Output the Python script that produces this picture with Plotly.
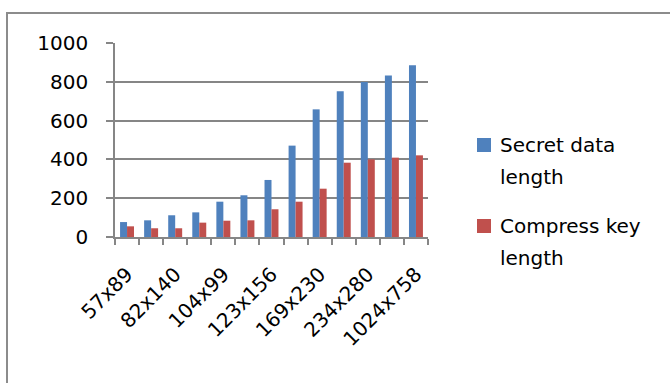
import plotly.graph_objects as go

# Image sizes (every other one is labelled on the axis)
positions = list(range(13))
size_labels = ["57x89", "82x140", "104x99", "123x156", "169x230", "234x280", "1024x758"]
label_positions = [0, 2, 4, 6, 8, 10, 12]

secret_data_length = [77, 86, 112, 127, 182, 215, 294, 471, 658, 751, 799, 832, 885]
compress_key_length = [55, 45, 45, 74, 84, 86, 143, 182, 249, 383, 400, 409, 421]

series_names = ["Secret data length", "Compress key length"]
series_colors = ["#4F81BD", "#C0504D"]

FONT = "'DejaVu Sans', sans-serif"
GRID = "#868686"

fig = go.Figure()
for name, vals, color in zip(series_names, [secret_data_length, compress_key_length], series_colors):
    fig.add_trace(go.Bar(x=positions, y=vals, name=name,
                         marker=dict(color=color, line=dict(width=0))))

W, H = 670, 383
L, R, T, B = 115, 242, 43, 146
pw, ph = W - L - R, H - T - B

def px_x(p):
    return (p - L) / pw

def px_y(p):
    return (H - B - p) / ph

# Legend drawn by hand: a colour square and two wrapped text lines per series
legend_rows = [
    (series_colors[0], 145, ["Secret data", "length"]),
    (series_colors[1], 226, ["Compress key", "length"]),
]
shapes = [dict(type="rect", xref="paper", yref="paper",
               x0=px_x(7), x1=px_x(700), y0=px_y(420), y1=px_y(13),
               line=dict(color="#8c8c8c", width=2), fillcolor="rgba(0,0,0,0)",
               layer="below")]
annotations = []
for color, ytop, lines in legend_rows:
    shapes.append(dict(type="rect", xref="paper", yref="paper",
                       x0=px_x(477), x1=px_x(491), y0=px_y(ytop + 7), y1=px_y(ytop - 7),
                       line=dict(width=0), fillcolor=color))
    for i, text in enumerate(lines):
        annotations.append(dict(text=text, xref="paper", yref="paper",
                                x=px_x(498), y=px_y(ytop + i * 32),
                                xanchor="left", yanchor="middle", showarrow=False,
                                font=dict(family=FONT, size=20, color="#000000")))

fig.update_layout(
    width=W, height=H,
    margin=dict(l=L, r=R, t=T, b=B),
    paper_bgcolor="white", plot_bgcolor="white",
    barmode="group", bargap=0.42, bargroupgap=0.0,
    font=dict(family=FONT, size=20, color="#000000"),
    showlegend=False,
    xaxis=dict(
        range=[-0.5, 12.5],
        tickmode="array", tickvals=label_positions, ticktext=size_labels,
        tickangle=-45, ticks="", showgrid=False,
        showline=True, linecolor=GRID, linewidth=1.5,
        tickfont=dict(family=FONT, size=20),
        ticklabelstandoff=16,
        minor=dict(tick0=-0.5, dtick=1, ticks="outside", ticklen=6,
                   tickcolor=GRID, tickwidth=1.5, showgrid=False),
        zeroline=False,
    ),
    yaxis=dict(
        range=[0, 1000], tickmode="linear", tick0=0, dtick=200,
        ticks="outside", ticklen=7, tickcolor=GRID, tickwidth=1.5,
        showgrid=True, gridcolor=GRID, gridwidth=1.5,
        showline=True, linecolor=GRID, linewidth=1.5,
        zeroline=False, tickfont=dict(family=FONT, size=20),
        ticklabelstandoff=14,
    ),
    shapes=shapes,
    annotations=annotations,
)

fig.write_html("out.html")
